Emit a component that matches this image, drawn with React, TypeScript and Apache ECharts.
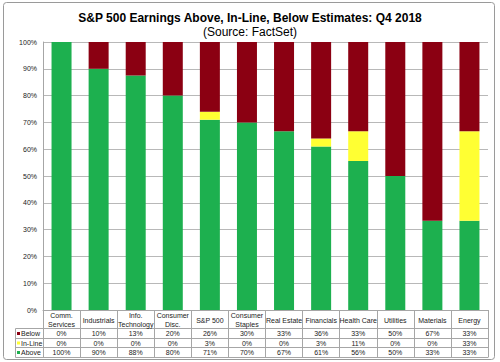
import React, { useEffect, useRef } from "react";
import * as echarts from "echarts";

const categories = [
  "Comm.\nServices",
  "Industrials",
  "Info.\nTechnology",
  "Consumer\nDisc.",
  "S&P 500",
  "Consumer\nStaples",
  "Real Estate",
  "Financials",
  "Health Care",
  "Utilities",
  "Materials",
  "Energy",
];
// shares in percent (table shows them rounded)
const below = [0, 10, 12.5, 20, 26, 30, 33.3, 36, 33.3, 50, 66.7, 33.3];
const inLine = [0, 0, 0, 0, 3, 0, 0, 3, 11.1, 0, 0, 33.4];
const above = [100, 90, 87.5, 80, 71, 70, 66.7, 61, 55.6, 50, 33.3, 33.3];
const yTicks = [0, 10, 20, 30, 40, 50, 60, 70, 80, 90, 100];

const FONT = "'Liberation Sans', Arial, sans-serif";
const RED = "#8b0012";
const YELLOW = "#ffff33";
const GREEN = "#1db04f";
const LINE = "#a6a6a6";

export default function App() {
  const ref = useRef<HTMLDivElement>(null);
  useEffect(() => {
    if (!ref.current) return;
    const chart = echarts.init(ref.current, null, { renderer: "svg" });
    const gridLeft = 43;
    const gridRight = 488;
    const axisY = 310;
    const rowLines = [328.5, 338.5, 347.5, 357.5];
    const rows = [
      { name: "Below", color: RED, vals: below, margin: 23.5 },
      { name: "In-Line", color: YELLOW, vals: inLine, margin: 33 },
      { name: "Above", color: GREEN, vals: above, margin: 42.5 },
    ];
    const labelStyle = { fontSize: 7, color: "#222", fontFamily: FONT };
    const extraX = rows.map((r) => ({
      type: "category",
      gridIndex: 0,
      position: "bottom",
      data: categories,
      axisLine: { show: false },
      axisTick: { show: false },
      axisLabel: {
        ...labelStyle,
        interval: 0,
        margin: r.margin,
        verticalAlign: "middle",
        formatter: (_v: string, i: number) => Math.round(r.vals[i]) + "%",
      },
    }));
    const graphics: any[] = [
      {
        type: "rect",
        shape: { x: 3.5, y: 2.5, width: 491, height: 357, r: 3 },
        style: { fill: "none", stroke: "#9a9a9a", lineWidth: 1 },
      },
      {
        type: "line",
        shape: { x1: 15.5, y1: rowLines[0], x2: 15.5, y2: rowLines[3] },
        style: { stroke: LINE, lineWidth: 1 },
      },
      ...rowLines.map((y) => ({
        type: "line",
        shape: { x1: 15.5, y1: y, x2: gridRight + 0.5, y2: y },
        style: { stroke: LINE, lineWidth: 1 },
      })),
    ];
    rows.forEach((r) => {
      const cy = axisY + r.margin;
      graphics.push({
        type: "rect",
        shape: { x: 17, y: cy - 1.5, width: 3, height: 3 },
        style: { fill: r.color },
      });
      graphics.push({
        type: "text",
        x: 21,
        y: cy,
        style: {
          text: r.name,
          fontSize: 7,
          fontFamily: FONT,
          fill: "#222",
          verticalAlign: "middle",
        },
      });
    });
    chart.setOption({
      animation: false,
      title: {
        text: "S&P 500 Earnings Above, In-Line, Below Estimates: Q4 2018",
        subtext: "(Source: FactSet)",
        left: "center",
        top: 7,
        itemGap: 2,
        textStyle: { fontSize: 12, fontWeight: "bold", color: "#000", fontFamily: FONT },
        subtextStyle: { fontSize: 12, color: "#000", fontFamily: FONT },
      },
      grid: { left: gridLeft, right: 500 - gridRight, top: 42, bottom: 362 - axisY },
      xAxis: [
        {
          type: "category",
          data: categories,
          axisLine: { show: true, lineStyle: { color: LINE, width: 1 } },
          axisTick: {
            show: true,
            alignWithLabel: false,
            length: 47,
            lineStyle: { color: LINE, width: 1 },
          },
          axisLabel: {
            ...labelStyle,
            interval: 0,
            margin: 10,
            lineHeight: 9,
            verticalAlign: "middle",
          },
        },
        ...extraX,
      ],
      yAxis: {
        type: "value",
        min: 0,
        max: 100,
        interval: 10,
        axisLine: { show: true, lineStyle: { color: LINE, width: 1 } },
        axisTick: { show: false },
        splitLine: { lineStyle: { color: "#b8b8b8", width: 1 } },
        axisLabel: {
          ...labelStyle,
          margin: 6,
          formatter: (v: number) => (yTicks.includes(v) ? v + "%" : ""),
        },
      },
      series: [
        {
          name: "Above",
          type: "bar",
          stack: "s",
          barWidth: 20,
          data: above,
          itemStyle: { color: GREEN },
        },
        {
          name: "In-Line",
          type: "bar",
          stack: "s",
          barWidth: 20,
          data: inLine,
          itemStyle: { color: YELLOW },
        },
        {
          name: "Below",
          type: "bar",
          stack: "s",
          barWidth: 20,
          data: below,
          itemStyle: { color: RED },
        },
      ],
      graphic: graphics,
    });
    return () => chart.dispose();
  }, []);
  return (
    <div
      ref={ref}
      style={{ position: "fixed", left: 0, top: 0, width: 500, height: 362, background: "#fff" }}
    />
  );
}
